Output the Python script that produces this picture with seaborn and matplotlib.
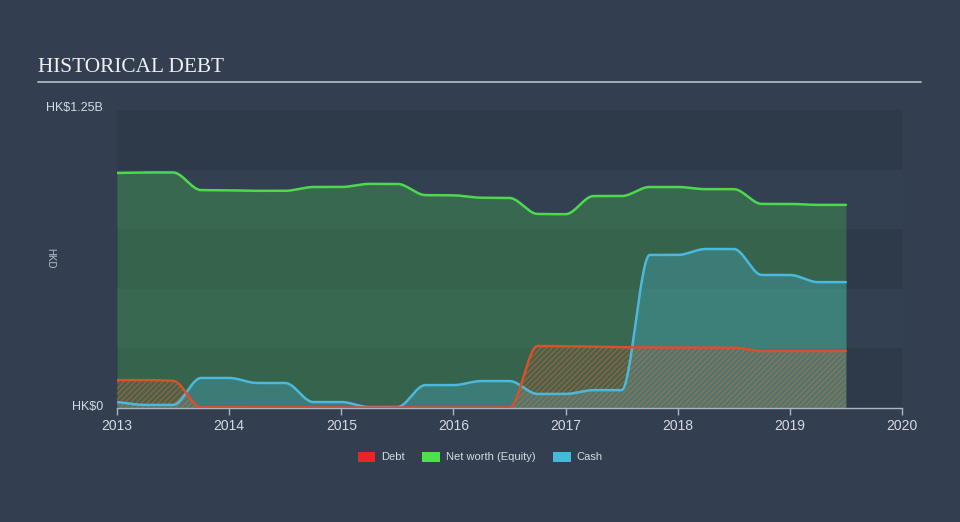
import numpy as np
import pandas as pd
import matplotlib
matplotlib.use("Agg")
import matplotlib.pyplot as plt
from matplotlib.patches import Patch
import seaborn as sns

# ---- data (HK$ billions, quarterly) ----
dates = [2013.0, 2013.25, 2013.5, 2013.75, 2014.0, 2014.25, 2014.5, 2014.75,
         2015.0, 2015.25, 2015.5, 2015.75, 2016.0, 2016.25, 2016.5, 2016.75,
         2017.0, 2017.25, 2017.5, 2017.75, 2018.0, 2018.25, 2018.5, 2018.75,
         2019.0, 2019.25, 2019.5]
equity = [0.986, 0.988, 0.988, 0.914, 0.913, 0.911, 0.911, 0.927,
          0.927, 0.940, 0.940, 0.893, 0.892, 0.882, 0.881, 0.814,
          0.813, 0.889, 0.889, 0.927, 0.927, 0.918, 0.918, 0.856,
          0.856, 0.852, 0.852]
cash = [0.025, 0.013, 0.013, 0.126, 0.126, 0.105, 0.105, 0.025,
        0.025, 0.004, 0.004, 0.096, 0.096, 0.113, 0.113, 0.059,
        0.059, 0.075, 0.075, 0.642, 0.642, 0.667, 0.667, 0.558,
        0.558, 0.528, 0.528]
debt = [0.117, 0.117, 0.114, 0.003, 0.003, 0.003, 0.003, 0.002,
        0.002, 0.002, 0.002, 0.002, 0.002, 0.002, 0.002, 0.260,
        0.259, 0.257, 0.255, 0.254, 0.254, 0.253, 0.253, 0.239,
        0.239, 0.239, 0.239]
year_ticks = [2013, 2014, 2015, 2016, 2017, 2018, 2019, 2020]


def monotone(x, y, xs):
    """Monotone cubic (Fritsch-Carlson) rendering of the series."""
    x = np.asarray(x, float); y = np.asarray(y, float)
    h = np.diff(x); d = np.diff(y) / h
    m = np.zeros_like(y)
    m[0], m[-1] = d[0], d[-1]
    for i in range(1, len(y) - 1):
        if d[i - 1] * d[i] <= 0:
            m[i] = 0
        else:
            w1 = 2 * h[i] + h[i - 1]; w2 = h[i] + 2 * h[i - 1]
            m[i] = (w1 + w2) / (w1 / d[i - 1] + w2 / d[i])
    idx = np.clip(np.searchsorted(x, xs) - 1, 0, len(x) - 2)
    t = (xs - x[idx]) / h[idx]
    h00 = 2 * t**3 - 3 * t**2 + 1; h10 = t**3 - 2 * t**2 + t
    h01 = -2 * t**3 + 3 * t**2; h11 = t**3 - t**2
    return h00 * y[idx] + h10 * h[idx] * m[idx] + h01 * y[idx + 1] + h11 * h[idx] * m[idx + 1]


xs = np.linspace(dates[0], dates[-1], 800)
series = {"Net worth (Equity)": equity, "Cash": cash, "Debt": debt}
smooth = {k: monotone(dates, v, xs) for k, v in series.items()}
df = pd.concat([pd.DataFrame({"date": xs, "value": smooth[k], "series": k}) for k in series])

BG = "#333f50"
sns.set_style("dark")
plt.rcParams["font.family"] = ["Liberation Sans", "DejaVu Sans"]
plt.rcParams["hatch.linewidth"] = 0.6

fig = plt.figure(figsize=(9.6, 5.22), dpi=100, facecolor=BG)
ax = fig.add_axes([117 / 960, 1 - 408 / 522, (902 - 117) / 960, (408 - 110) / 522])
ax.set_facecolor(BG)

# background bands
for i in range(5):
    col = "#2e3a4a" if i % 2 == 0 else "#334052"
    ax.axhspan(i * 0.25, (i + 1) * 0.25, color=col, lw=0, zorder=0)

green, blue, red = "#4ee04e", "#48b7da", "#e8262a"
ax.fill_between(xs, 0, smooth["Net worth (Equity)"], color=green, alpha=0.25, lw=0, zorder=1)
ax.fill_between(xs, 0, smooth["Cash"], color=blue, alpha=0.3, lw=0, zorder=2)
ax.fill_between(xs, 0, smooth["Debt"], facecolor=(0.85, 0.35, 0.2, 0.14),
                edgecolor=(0.92, 0.42, 0.25, 0.6), hatch="//////", lw=0, zorder=3)

sns.lineplot(data=df, x="date", y="value", hue="series", ax=ax, legend=False,
             palette={"Net worth (Equity)": "#4ed84e", "Cash": "#4bb8dc", "Debt": "#d9502e"},
             linewidth=1.8, zorder=4, sort=False, estimator=None)

ax.set_xlim(2013, 2020)
ax.set_ylim(0, 1.25)
ax.set_xticks(year_ticks)
ax.set_xticklabels([str(y) for y in year_ticks], color="#d5dae0", fontsize=10)
ax.set_yticks([])
ax.set_xlabel("")
ax.set_ylabel("")
ax.tick_params(axis="x", length=5, width=1, color="#aab4c0", direction="out", pad=3, bottom=True)
for s in ["top", "right", "left"]:
    ax.spines[s].set_visible(False)
ax.spines["bottom"].set_visible(True)
ax.spines["bottom"].set_color("#aab4c0")
ax.spines["bottom"].set_linewidth(1)
ax.grid(False)

# y labels
fig.text(103 / 960, 1 - 407 / 522, "HK$0", ha="right", va="center", color="#d5dae0", fontsize=9)
fig.text(103 / 960, 1 - 108 / 522, "HK$1.25B", ha="right", va="center", color="#d5dae0", fontsize=9)
fig.text(50 / 960, 1 - 258 / 522, "HKD", ha="center", va="center", rotation=270, color="#b8c0ca", fontsize=7)

# title
fig.text(38 / 960, 1 - 67 / 522, "HISTORICAL DEBT", ha="left", va="center", color="#f0f0f0",
         fontsize=15.3, family=["Liberation Serif", "DejaVu Serif"])
fig.add_artist(plt.Line2D([38 / 960, 921 / 960], [1 - 81.5 / 522] * 2, color="#b0b6be", lw=1.3))

handles = [Patch(facecolor=red, edgecolor="none", label="Debt"),
           Patch(facecolor=green, edgecolor="none", label="Net worth (Equity)"),
           Patch(facecolor=blue, edgecolor="none", label="Cash")]
fig.legend(handles=handles, loc="center", bbox_to_anchor=(480 / 960, 1 - 457 / 522), ncol=3,
           frameon=False, fontsize=8, labelcolor="#d5dae0", handlelength=1.6, handleheight=1.0,
           columnspacing=1.6, handletextpad=0.5)

fig.savefig("out.png", dpi=100, facecolor=BG)
